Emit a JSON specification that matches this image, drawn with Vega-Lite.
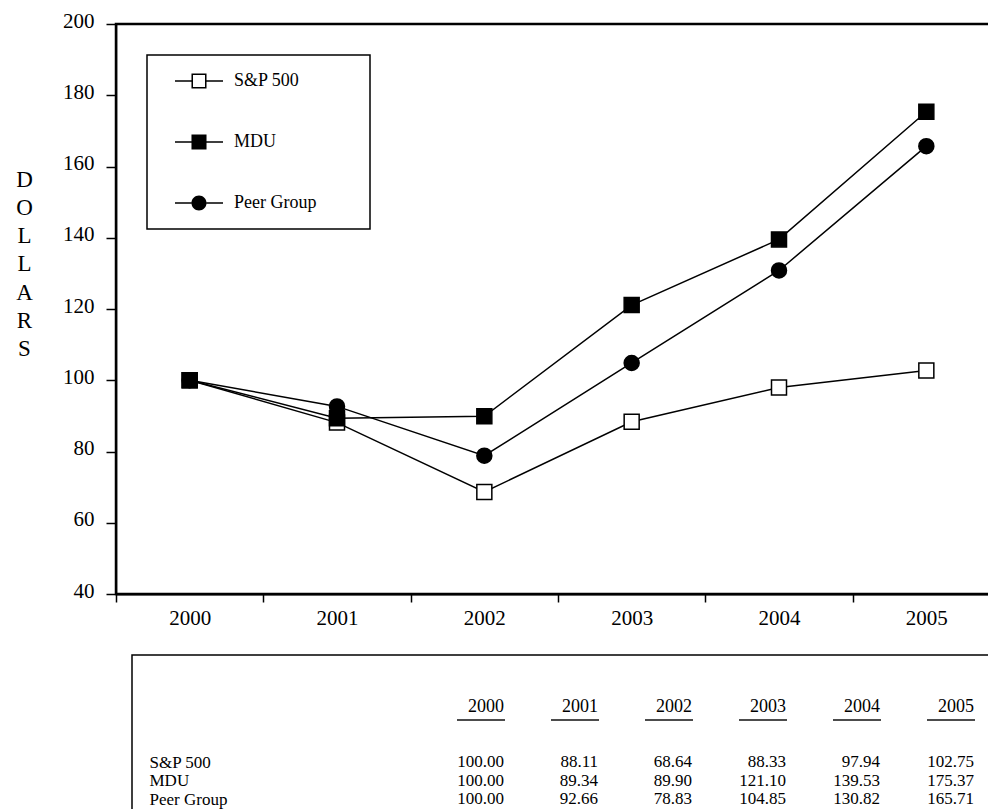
{
  "$schema": "https://vega.github.io/schema/vega-lite/v6.json",
  "background": "white",
  "padding": {"left": 14, "top": 8, "right": 0, "bottom": 0},
  "datasets": {
    "perf": [
      {"series": "S&P 500", "year": "2000", "value": 100.00},
      {"series": "S&P 500", "year": "2001", "value": 88.11},
      {"series": "S&P 500", "year": "2002", "value": 68.64},
      {"series": "S&P 500", "year": "2003", "value": 88.33},
      {"series": "S&P 500", "year": "2004", "value": 97.94},
      {"series": "S&P 500", "year": "2005", "value": 102.75},
      {"series": "Peer Group", "year": "2000", "value": 100.00},
      {"series": "Peer Group", "year": "2001", "value": 92.66},
      {"series": "Peer Group", "year": "2002", "value": 78.83},
      {"series": "Peer Group", "year": "2003", "value": 104.85},
      {"series": "Peer Group", "year": "2004", "value": 130.82},
      {"series": "Peer Group", "year": "2005", "value": 165.71},
      {"series": "MDU", "year": "2000", "value": 100.00},
      {"series": "MDU", "year": "2001", "value": 89.34},
      {"series": "MDU", "year": "2002", "value": 89.90},
      {"series": "MDU", "year": "2003", "value": 121.10},
      {"series": "MDU", "year": "2004", "value": 139.53},
      {"series": "MDU", "year": "2005", "value": 175.37}
    ]
  },
  "config": {
    "font": "Liberation Serif",
    "view": {"stroke": null},
    "axis": {
      "labelFont": "Liberation Serif",
      "titleFont": "Liberation Serif",
      "labelColor": "black",
      "titleColor": "black",
      "domainColor": "black",
      "tickColor": "black",
      "grid": false,
      "titleFontWeight": "normal"
    },
    "legend": {"strokeWidth": 1.5},
    "text": {"font": "Liberation Serif", "color": "black"}
  },
  "spacing": 24,
  "vconcat": [
    {
      "width": 884,
      "height": 570,
      "view": {"stroke": "black", "strokeWidth": 2.5},
      "data": {"name": "perf"},
      "encoding": {
        "x": {
          "field": "year",
          "type": "ordinal",
          "scale": {"type": "band", "paddingInner": 0, "paddingOuter": 0},
          "axis": {
            "title": null,
            "labelAngle": 0,
            "tickBand": "extent",
            "tickSize": 8,
            "tickWidth": 1.5,
            "domainWidth": 2,
            "labelPadding": 5,
            "labelFontSize": 21
          }
        },
        "y": {
          "field": "value",
          "type": "quantitative",
          "scale": {"domain": [40, 200], "nice": false, "zero": false},
          "axis": {
            "values": [40, 60, 80, 100, 120, 140, 160, 180, 200],
            "tickSize": 10,
            "tickWidth": 1.5,
            "domainWidth": 1.5,
            "labelPadding": 12,
            "labelFontSize": 21,
            "labelOffset": -3,
            "title": ["D", "O", "L", "L", "A", "R", "S"],
            "titleAngle": 0,
            "titleX": -92,
            "titleY": 155,
            "titleAlign": "center",
            "titleBaseline": "middle",
            "titleLineHeight": 28.3,
            "titleFontSize": 23
          }
        }
      },
      "layer": [
        {
          "mark": {"type": "line", "color": "black", "strokeWidth": 1.5},
          "encoding": {"detail": {"field": "series", "type": "nominal"}}
        },
        {
          "mark": {"type": "point", "size": 225, "stroke": "black", "strokeWidth": 1.5, "opacity": 1},
          "encoding": {
            "shape": {
              "field": "series",
              "type": "nominal",
              "scale": {"domain": ["S&P 500", "MDU", "Peer Group"], "range": ["square", "square", "circle"]},
              "legend": null
            },
            "fill": {
              "field": "series",
              "type": "nominal",
              "scale": {"domain": ["S&P 500", "MDU", "Peer Group"], "range": ["white", "black", "black"]},
              "legend": null
            }
          }
        },
        {
          "transform": [{"filter": "false"}],
          "mark": {"type": "point", "filled": true, "color": "black", "size": 256, "opacity": 1},
          "encoding": {
            "shape": {
              "field": "series",
              "type": "nominal",
              "scale": {
                "domain": ["S&P 500", "MDU", "Peer Group"],
                "range": [
                  "M-3,-0.09H-0.94V0.09H-3ZM0.94,-0.09H3V0.09H0.94ZM-0.94,-0.94H0.94V0.94H-0.94ZM-0.75,-0.75V0.75H0.75V-0.75Z",
                  "M-3,-0.09H-0.94V0.09H-3ZM0.94,-0.09H3V0.09H0.94ZM-0.94,-0.94H0.94V0.94H-0.94Z",
                  "M-3,-0.09H-0.94V0.09H-3ZM0.94,-0.09H3V0.09H0.94ZM-0.94,0A0.94,0.94 0 1,0 0.94,0A0.94,0.94 0 1,0 -0.94,0Z"
                ]
              },
              "legend": {
                "orient": "none",
                "legendX": 31,
                "legendY": 31,
                "title": ".",
                "titleOrient": "right",
                "titleColor": "transparent",
                "titleFontSize": 2,
                "titlePadding": 36,
                "strokeColor": "black",
                "padding": 17,
                "symbolOffset": 26,
                "labelOffset": 26,
                "rowPadding": 43,
                "symbolSize": 256,
                "symbolFillColor": "black",
                "symbolStrokeWidth": 0,
                "labelFontSize": 18,
                "labelFont": "Liberation Serif",
                "labelColor": "black"
              }
            }
          }
        }
      ],
      "resolve": {
        "scale": {"shape": "independent", "fill": "independent"},
        "legend": {"shape": "independent", "fill": "independent"}
      }
    },
    {
      "spacing": 14,
      "hconcat": [
        {
          "width": 1,
          "height": 1,
          "data": {"values": []},
          "mark": "point"
        },
        {
          "width": 900,
          "height": 180,
          "view": {"stroke": "black", "strokeWidth": 1.5},
          "data": {"name": "perf"},
          "encoding": {
            "x": {"field": "year", "type": "ordinal", "scale": {"type": "point", "padding": 0, "range": [372, 842]}, "axis": null}
          },
          "layer": [
            {
              "transform": [{"filter": "datum.series == 'S&P 500'"}],
              "mark": {"type": "text", "align": "right", "baseline": "middle", "fontSize": 18, "color": "black"},
              "encoding": {
                "y": {
                  "datum": "header",
                  "type": "nominal",
                  "scale": {"type": "point", "padding": 0, "domain": ["header", "gap1", "gap2", "S&P 500", "MDU", "Peer Group"], "range": [52, 144]},
                  "axis": {"title": null, "domain": false, "ticks": false, "tickSize": 0, "labelAlign": "left", "labelPadding": -17, "labelFontSize": 17, "labelOverlap": false, "labelBound": false, "labelExpr": "indexof(['S&P 500','MDU','Peer Group'], datum.value) >= 0 ? datum.value : ''"}
                },
                "text": {"field": "year", "type": "nominal"}
              }
            },
            {
              "transform": [{"filter": "datum.series == 'S&P 500'"}],
              "mark": {"type": "tick", "orient": "horizontal", "size": 48, "thickness": 2, "color": "black", "xOffset": -23, "yOffset": 13},
              "encoding": {
                "y": {
                  "datum": "header",
                  "type": "nominal",
                  "scale": {"type": "point", "padding": 0, "domain": ["header", "gap1", "gap2", "S&P 500", "MDU", "Peer Group"], "range": [52, 144]},
                  "axis": {"title": null, "domain": false, "ticks": false, "tickSize": 0, "labelAlign": "left", "labelPadding": -17, "labelFontSize": 17, "labelOverlap": false, "labelBound": false, "labelExpr": "indexof(['S&P 500','MDU','Peer Group'], datum.value) >= 0 ? datum.value : ''"}
                }
              }
            },
            {
              "mark": {"type": "text", "align": "right", "baseline": "middle", "fontSize": 17, "color": "black"},
              "encoding": {
                "y": {
                  "field": "series",
                  "type": "nominal",
                  "scale": {"type": "point", "padding": 0, "domain": ["header", "gap1", "gap2", "S&P 500", "MDU", "Peer Group"], "range": [52, 144]},
                  "axis": {"title": null, "domain": false, "ticks": false, "tickSize": 0, "labelAlign": "left", "labelPadding": -17, "labelFontSize": 17, "labelOverlap": false, "labelBound": false, "labelExpr": "indexof(['S&P 500','MDU','Peer Group'], datum.value) >= 0 ? datum.value : ''"}
                },
                "text": {"field": "value", "type": "quantitative", "format": ".2f"}
              }
            }
          ]
        }
      ]
    }
  ]
}
